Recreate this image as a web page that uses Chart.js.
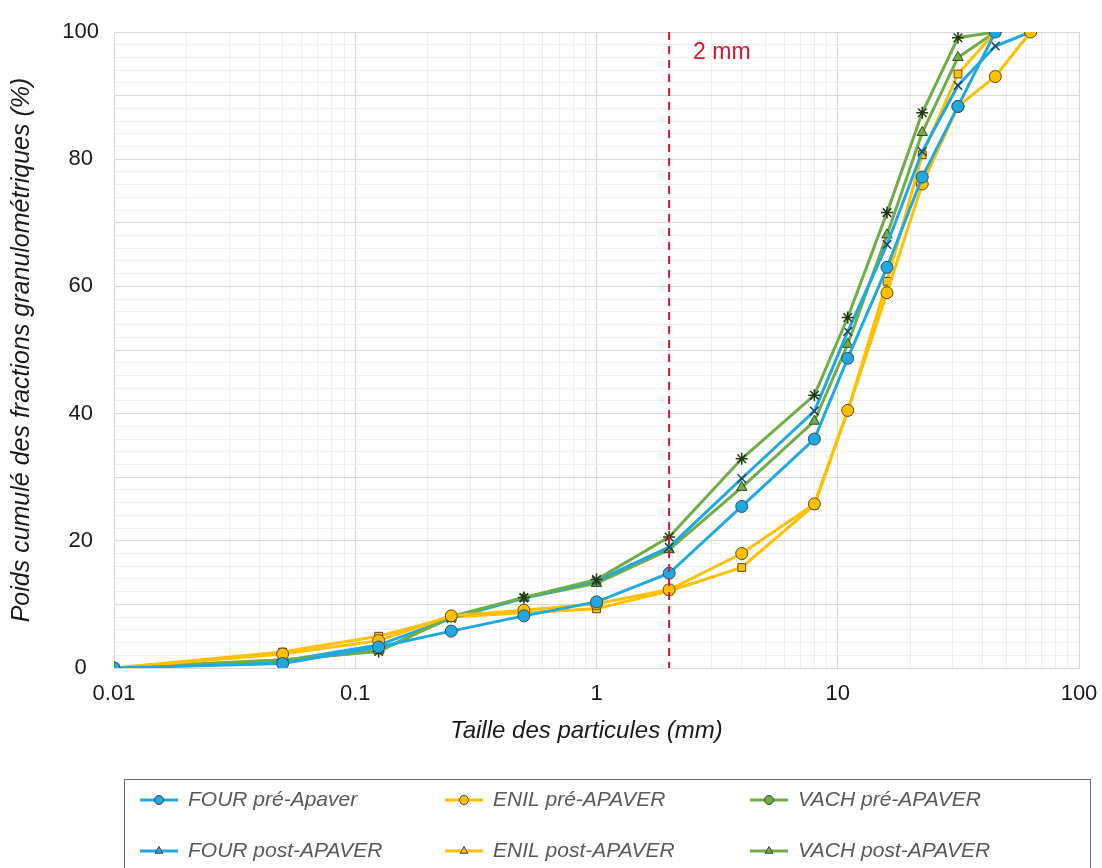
<!DOCTYPE html>
<html>
<head>
<meta charset="utf-8">
<script src="https://cdn.jsdelivr.net/npm/chart.js@4.4.1/dist/chart.umd.min.js"></script>
<style>
  html, body { margin: 0; padding: 0; background: #fff; overflow: hidden; }
  #wrap { width: 1102px; height: 868px; }
</style>
</head>
<body>
<div id="wrap"><canvas id="grain-chart"></canvas></div>
<script>
// sieve sizes (mm)
const sizes = [0.01, 0.05, 0.125, 0.25, 0.5, 1, 2, 4, 8, 11, 16, 22.4, 31.5, 45, 63];

// cumulative passing (%) per sample, null = no point
const fourPre  = [0, 0.7, 3.3, 5.8, 8.2, 10.4, 14.9, 25.4, 36.0, 48.7, 63.0, 77.2, 88.3, 100, null];
const fourPost = [0, 1.1, 3.6, 7.8, 11.0, 13.7, 19.0, 29.8, 40.4, 52.9, 66.6, 81.2, 91.6, 97.8, 100];
const enilPre  = [0, 2.2, 4.3, 8.2, 9.1, 10.1, 12.3, 18.0, 25.8, 40.5, 59.0, 76.1, 88.3, 93.0, 100];
const enilPost = [0, 2.5, 5.0, 8.0, 8.7, 9.3, 12.1, 15.8, 25.6, 40.4, 60.8, 80.7, 93.4, 100, null];
const vachPre  = [0, 1.3, 2.6, 8.1, 11.1, 13.9, 20.6, 32.9, 42.9, 55.1, 71.6, 87.3, 99.1, 100, null];
const vachPost = [0, 1.2, 2.7, 7.9, 11.0, 13.3, 18.6, 28.4, 38.8, 50.9, 68.1, 84.2, 96.0, 100, null];

const seriesLabels = ['FOUR pré-Apaver', 'ENIL pré-APAVER', 'VACH pré-APAVER',
                      'FOUR post-APAVER', 'ENIL post-APAVER', 'VACH post-APAVER'];
const seriesValues = [fourPre, enilPre, vachPre, fourPost, enilPost, vachPost];

const yTicks = [0, 20, 40, 60, 80, 100];
const xDecades = [0.01, 0.1, 1, 10, 100];
const refSize = 2;
const refLabel = '2 mm';

const BLUE = '#1FA9E1';
const YELLOW = '#FFC000';
const GREEN = '#70AD47';
const colours = [BLUE, YELLOW, GREEN, BLUE, YELLOW, GREEN];
const markers = ['circle', 'circle', 'star', 'crossRot', 'rect', 'triangle'];
const markerBorders = ['#3a4a55', '#5a4a10', '#1f3a12', '#1b3f5e', '#5a4a10', '#2f4a20'];

const FONT = "'Liberation Sans', Arial, sans-serif";

const toPoints = (vals) => sizes
    .map((s, i) => ({ x: s, y: vals[i] }))
    .filter((p) => p.y !== null);

const datasets = seriesValues.map((vals, i) => ({
    label: seriesLabels[i],
    data: toPoints(vals),
    borderColor: colours[i],
    backgroundColor: colours[i],
    borderWidth: 3,
    pointStyle: markers[i],
    pointRadius: markers[i] === 'rect' ? 5.5 : 6,
    pointBorderColor: markerBorders[i],
    pointBorderWidth: markers[i] === 'crossRot' || markers[i] === 'star' ? 1.5 : 1,
    pointBackgroundColor: colours[i],
    tension: 0,
}));

// dashed reference line at 2 mm
const refLinePlugin = {
    id: 'refLine',
    afterDatasetsDraw(chart) {
        const { ctx, chartArea, scales } = chart;
        const x = scales.x.getPixelForValue(refSize);
        ctx.save();
        ctx.strokeStyle = '#E3122D';
        ctx.lineWidth = 2;
        ctx.setLineDash([8, 6]);
        ctx.beginPath();
        ctx.moveTo(x, chartArea.top);
        ctx.lineTo(x, chartArea.bottom);
        ctx.stroke();
        ctx.setLineDash([]);
        ctx.fillStyle = '#E3122D';
        ctx.font = '23px ' + FONT;
        ctx.textBaseline = 'middle';
        ctx.fillText(refLabel, x + 24, chartArea.top + 21);
        ctx.restore();
    },
};

// boxed legend, line + marker like the spreadsheet one
const boxLegendPlugin = {
    id: 'boxLegend',
    afterDraw(chart) {
        const { ctx } = chart;
        const box = { left: 124.5, top: 779.5, right: 1090.5, bottom: 900 };
        const cols = [140, 445, 750];
        const rows = [800, 851];
        ctx.save();
        ctx.strokeStyle = '#6b6b6b';
        ctx.lineWidth = 1;
        ctx.strokeRect(box.left, box.top, box.right - box.left, box.bottom - box.top);
        chart.data.datasets.forEach((ds, i) => {
            const cx = cols[i % 3];
            const cy = rows[Math.floor(i / 3)];
            ctx.strokeStyle = ds.borderColor;
            ctx.lineWidth = 3;
            ctx.beginPath();
            ctx.moveTo(cx, cy);
            ctx.lineTo(cx + 38, cy);
            ctx.stroke();
            const style = i < 3 ? 'circle' : 'triangle';
            ctx.fillStyle = ds.backgroundColor;
            ctx.strokeStyle = '#404040';
            ctx.lineWidth = 1;
            Chart.helpers.drawPoint(ctx, { pointStyle: style, radius: 4.5, borderWidth: 1 }, cx + 19, cy);
            ctx.fillStyle = '#595959';
            ctx.font = 'italic 21px ' + FONT;
            ctx.textBaseline = 'middle';
            ctx.fillText(ds.label, cx + 48, cy);
        });
        ctx.restore();
    },
};

const isDecade = (v) => xDecades.some((d) => Math.abs(v / d - 1) < 1e-9);
// true for 1..9 x 10^n
const isWholeStep = (v) => {
    const m = v / Math.pow(10, Math.floor(Math.log10(v) + 1e-9));
    return Math.abs(m - Math.round(m)) < 1e-6;
};

const config = {
    type: 'line',
    data: { datasets },
    options: {
        responsive: true,
        maintainAspectRatio: false,
        animation: false,
        layout: { padding: { top: 32, right: 23, left: 0, bottom: 122 } },
        plugins: {
            legend: { display: false },
            tooltip: { enabled: false },
        },
        scales: {
            x: {
                type: 'logarithmic',
                min: 0.01,
                max: 100,
                afterFit: (scale) => {
                    scale.height = 78;
                    scale.paddingLeft = 0;
                    scale.paddingRight = 0;
                },
                // 1..9 in every decade, like the spreadsheet minor grid
                afterBuildTicks: (scale) => {
                    const ticks = [];
                    xDecades.slice(0, -1).forEach((d) => {
                        for (let k = 1; k < 10; k++) ticks.push({ value: +(k * d).toPrecision(3) });
                    });
                    ticks.push({ value: xDecades[xDecades.length - 1] });
                    scale.ticks = ticks;
                },
                grid: {
                    drawTicks: false,
                    color: (c) => {
                        const v = c.tick.value;
                        if (isDecade(v)) return '#D9D9D9';
                        return isWholeStep(v) ? '#EFEFEF' : 'rgba(0,0,0,0)';
                    },
                    lineWidth: 1,
                },
                border: { color: '#D9D9D9' },
                ticks: {
                    autoSkip: false,
                    maxRotation: 0,
                    padding: 13,
                    color: '#1a1a1a',
                    font: { family: FONT, size: 22 },
                    callback: (v) => (isDecade(v) ? String(v) : ''),
                },
                title: {
                    display: true,
                    text: 'Taille des particules (mm)   ',
                    color: '#1a1a1a',
                    font: { family: FONT, size: 24, style: 'italic' },
                    padding: { top: 0, bottom: 0 },
                },
            },
            y: {
                min: 0,
                max: 100,
                afterFit: (scale) => { scale.width = 114; },
                grid: {
                    drawTicks: false,
                    color: (c) => (c.tick.value % 10 === 0 ? '#D9D9D9' : '#EFEFEF'),
                },
                border: { color: '#D9D9D9' },
                ticks: {
                    stepSize: 2,
                    autoSkip: false,
                    crossAlign: 'center',
                    padding: 15,
                    color: '#1a1a1a',
                    font: { family: FONT, size: 22 },
                    callback: (v) => (yTicks.includes(v) ? String(v) : ''),
                },
                title: {
                    display: true,
                    text: 'Poids cumulé des fractions granulométriques (%)',
                    color: '#1a1a1a',
                    font: { family: FONT, size: 25, style: 'italic' },
                    padding: { top: 7, bottom: 0 },
                },
            },
        },
    },
    plugins: [refLinePlugin, boxLegendPlugin],
};

new Chart(document.getElementById('grain-chart'), config);
</script>
</body>
</html>
